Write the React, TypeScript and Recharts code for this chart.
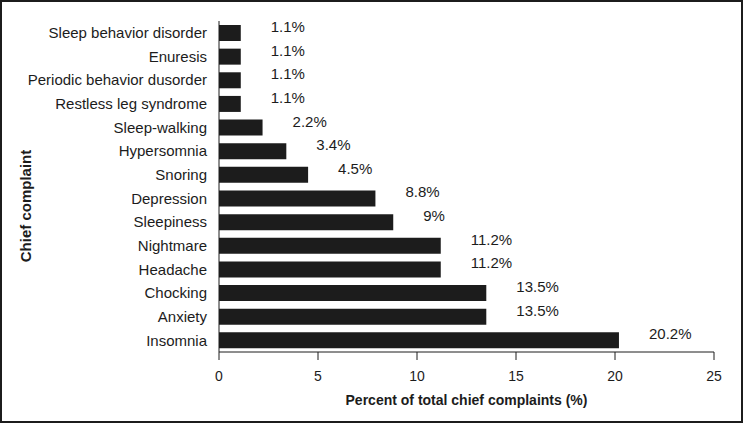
import React from 'react';
import { BarChart, Bar, XAxis, YAxis, LabelList, Label } from 'recharts';

const complaints = [
  'Sleep behavior disorder',
  'Enuresis',
  'Periodic behavior dusorder',
  'Restless leg syndrome',
  'Sleep-walking',
  'Hypersomnia',
  'Snoring',
  'Depression',
  'Sleepiness',
  'Nightmare',
  'Headache',
  'Chocking',
  'Anxiety',
  'Insomnia',
];
const percents = [1.1, 1.1, 1.1, 1.1, 2.2, 3.4, 4.5, 7.9, 8.8, 11.2, 11.2, 13.5, 13.5, 20.2];
const valueLabels = ['1.1%', '1.1%', '1.1%', '1.1%', '2.2%', '3.4%', '4.5%', '8.8%', '9%', '11.2%', '11.2%', '13.5%', '13.5%', '20.2%'];
const xTicks = [0, 5, 10, 15, 20, 25];

const data = complaints.map((name, i) => ({ name, value: percents[i], label: valueLabels[i] }));

const FONT = 'Liberation Sans, Arial, Helvetica, sans-serif';
const INK = '#1c1c1c';

// value label sits a little to the right of the bar end and slightly above centre
const ValueLabel = (props: any) => {
  const { x, y, width, height, value } = props;
  return (
    <text
      x={x + width + 30}
      y={y + height / 2 - 5}
      fontSize={15}
      fontFamily={FONT}
      fill={INK}
      dominantBaseline="middle"
    >
      {value}
    </text>
  );
};

export default function App() {
  return (
    <div style={{ position: 'absolute', left: 0, top: 0, width: 743, height: 423, background: '#fff' }}>
      <BarChart
        width={743}
        height={423}
        data={data}
        layout="vertical"
        margin={{ top: 21, right: 29, bottom: 0, left: 0 }}
        style={{ position: 'absolute', left: 0, top: 0 }}
      >
        <XAxis
          type="number"
          domain={[0, 25]}
          ticks={xTicks}
          height={71}
          tickSize={8}
          tickMargin={11}
          stroke={INK}
          tick={{ fill: INK, fontSize: 14, fontFamily: FONT }}
        >
          <Label
            value="Percent of total chief complaints (%)"
            position="insideBottom"
            offset={18}
            style={{ fill: INK, fontSize: 14, fontWeight: 'bold', fontFamily: FONT }}
          />
        </XAxis>
        <YAxis
          type="category"
          dataKey="name"
          width={219}
          tickLine={false}
          tickSize={0}
          tickMargin={12}
          interval={0}
          stroke={INK}
          tick={{ fill: INK, fontSize: 15, fontFamily: FONT }}
        />
        <Bar dataKey="value" fill={INK} barSize={16} isAnimationActive={false}>
          <LabelList dataKey="label" content={<ValueLabel />} />
        </Bar>
      </BarChart>
      <svg width={743} height={423} style={{ position: 'absolute', left: 0, top: 0, pointerEvents: 'none' }}>
        <text
          x={0}
          y={0}
          transform="translate(31 206) rotate(-90)"
          textAnchor="middle"
          fontSize={15}
          fontWeight="bold"
          fontFamily={FONT}
          fill={INK}
        >
          Chief complaint
        </text>
      </svg>
      <div
        style={{
          position: 'absolute',
          left: 0,
          top: 0,
          width: 743,
          height: 423,
          boxSizing: 'border-box',
          border: `2px solid ${INK}`,
          pointerEvents: 'none',
        }}
      />
    </div>
  );
}
